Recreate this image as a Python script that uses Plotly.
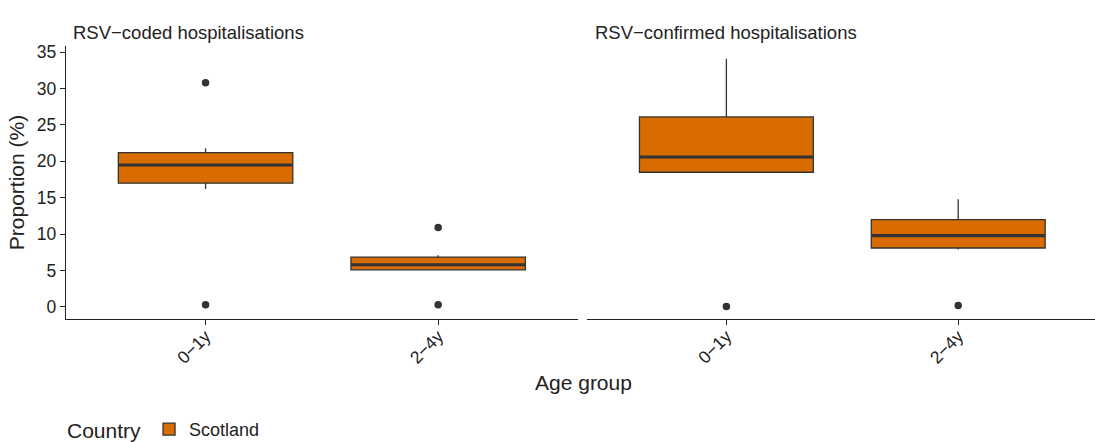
import plotly.graph_objects as go

# Age groups on the x axis of each panel
age_groups = ["0−1y", "2−4y"]
positions = [1, 2]

# RSV-coded hospitalisations (%): box statistics per age group
coded_q1 = [17.0, 5.1]
coded_median = [19.5, 5.8]
coded_q3 = [21.2, 6.85]
coded_lower = [16.2, 5.0]
coded_upper = [21.8, 7.1]
coded_outliers = [[30.8, 0.3], [10.9, 0.3]]

# RSV-confirmed hospitalisations (%): box statistics per age group
conf_q1 = [18.5, 8.1]
conf_median = [20.6, 9.8]
conf_q3 = [26.1, 12.0]
conf_lower = [18.4, 7.9]
conf_upper = [34.1, 14.8]
conf_outliers = [[0.05], [0.2]]

panel_titles = ["RSV−coded hospitalisations", "RSV−confirmed hospitalisations"]
y_ticks = [0, 5, 10, 15, 20, 25, 30, 35]

FILL = "#D96C00"
EDGE = "#333333"
AXIS = "#222222"
FONT = "Liberation Sans, Arial, sans-serif"
BOX_W = 0.75

W, H = 1095, 442
M_L, M_R, M_T, M_B = 66, 0, 46, 123
plot_h = H - M_T - M_B

fig = go.Figure()

panels = [
    ("x", "y", coded_q1, coded_median, coded_q3, coded_lower, coded_upper, coded_outliers),
    ("x2", "y2", conf_q1, conf_median, conf_q3, conf_lower, conf_upper, conf_outliers),
]

first = True
for xa, ya, q1, med, q3, lo, hi, outs in panels:
    fig.add_trace(go.Box(
        x=positions, q1=q1, median=med, q3=q3, lowerfence=lo, upperfence=hi,
        width=BOX_W, fillcolor=FILL, line=dict(color=EDGE, width=1.3),
        whiskerwidth=0, boxpoints=False, name="Scotland",
        legendgroup="Scotland", showlegend=first, xaxis=xa, yaxis=ya,
        hoverinfo="skip",
    ))
    first = False
    # thicker median bars
    for p, m in zip(positions, med):
        fig.add_trace(go.Scatter(
            x=[p - BOX_W / 2, p + BOX_W / 2], y=[m, m], mode="lines",
            line=dict(color=EDGE, width=3.2), showlegend=False,
            xaxis=xa, yaxis=ya, hoverinfo="skip",
        ))
    # outlying points
    for p, vals in zip(positions, outs):
        fig.add_trace(go.Scatter(
            x=[p] * len(vals), y=vals, mode="markers",
            marker=dict(color=EDGE, size=7.5), showlegend=False,
            xaxis=xa, yaxis=ya, hoverinfo="skip",
        ))

axis_common = dict(
    showline=True, linecolor=AXIS, linewidth=1.4, ticks="outside",
    ticklen=5, tickwidth=1.2, tickcolor=AXIS, showgrid=False, zeroline=False,
    automargin=False,
    tickfont=dict(family=FONT, size=17.5, color=AXIS),
)

x_common = dict(tickvals=positions, ticktext=age_groups, tickangle=-45,
                ticklabelstandoff=-6, **axis_common)

title_font = dict(family=FONT, size=18.5, color=AXIS)

fig.update_layout(
    width=W, height=H,
    margin=dict(l=M_L, r=M_R, t=M_T, b=M_B, autoexpand=False),
    paper_bgcolor="white", plot_bgcolor="white",
    font=dict(family=FONT, color=AXIS),
    xaxis=dict(domain=[0, 0.4973], range=[0.4, 2.6], **x_common),
    xaxis2=dict(domain=[0.5066, 1], range=[0.4, 2.59], anchor="y2", **x_common),
    yaxis=dict(range=[-1.65, 35.84], tickvals=y_ticks,
               title=dict(text="Proportion (%)", font=dict(family=FONT, size=21, color=AXIS), standoff=6),
               **axis_common),
    yaxis2=dict(range=[-1.65, 35.84], anchor="x2", showline=False, showticklabels=False,
                ticks="", showgrid=False, zeroline=False),
    legend=dict(
        orientation="h", xref="container", x=(M_L - 1) / W, xanchor="left",
        yref="container", y=(H - 430) / H, yanchor="middle",
        title=dict(text="Country", font=dict(family=FONT, size=21, color=AXIS), side="left"),
        font=dict(family=FONT, size=18, color=AXIS), bgcolor="rgba(0,0,0,0)",
    ),
    annotations=[
        dict(text=panel_titles[0], x=(71 - M_L) / (W - M_L - M_R), xref="paper",
             y=1 + (M_T - 32.5) / plot_h, yref="paper",
             showarrow=False, xanchor="left", yanchor="middle", font=title_font),
        dict(text=panel_titles[1], x=(593 - M_L) / (W - M_L - M_R), xref="paper",
             y=1 + (M_T - 32.5) / plot_h, yref="paper",
             showarrow=False, xanchor="left", yanchor="middle", font=title_font),
        dict(text="Age group", x=(583 - M_L) / (W - M_L - M_R), xref="paper",
             y=-(382 - (H - M_B)) / plot_h, yref="paper",
             showarrow=False, xanchor="center", yanchor="middle",
             font=dict(family=FONT, size=21, color=AXIS)),
    ],
)

fig.write_html("out.html")
